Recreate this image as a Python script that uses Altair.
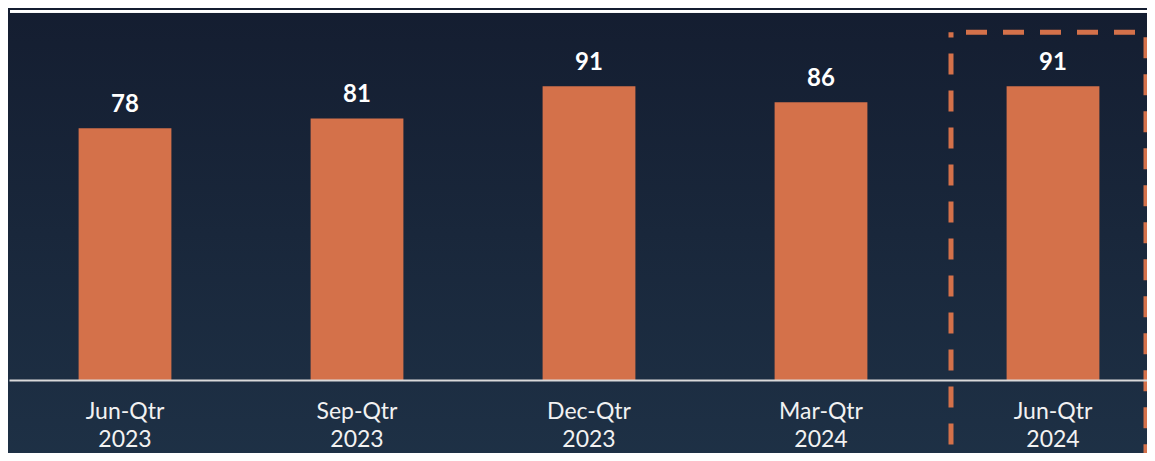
import altair as alt
import pandas as pd

quarters = ["Jun-Qtr 2023", "Sep-Qtr 2023", "Dec-Qtr 2023", "Mar-Qtr 2024", "Jun-Qtr 2024"]
values = [78, 81, 91, 86, 91]
highlight = ["Jun-Qtr 2024"]

df = pd.DataFrame({"quarter": quarters, "value": values})

W, H = 1139, 372
YMAX = 115.2
BAR = "#d4714a"
FONT = "Lato"

xscale = alt.Scale(domain=quarters, range=[1, 1161], paddingInner=0.6, paddingOuter=0.3)
yscale = alt.Scale(domain=[0, YMAX], nice=False, zero=True)

x_enc = alt.X(
    "quarter:N",
    scale=xscale,
    sort=quarters,
    title=None,
    axis=alt.Axis(
        labelExpr="split(datum.label, ' ')",
        labelAngle=0,
        labelFont=FONT,
        labelFontSize=23,
        labelColor="#f2f2f2",
        labelBaseline="top",
        labelLineHeight=28,
        labelPadding=20.5,
        ticks=False,
        tickSize=0,
        domainColor="#d9d9d9",
        domainWidth=2,
        grid=False,
        zindex=2,
    ),
)

bg = alt.Chart(pd.DataFrame({"k": [0]})).mark_rect(
    color=alt.Gradient(
        gradient="linear",
        stops=[
            alt.GradientStop(color="#141d30", offset=0),
            alt.GradientStop(color="#1e3146", offset=1),
        ],
        x1=0, x2=0, y1=0, y2=1,
    ),
    clip=False,
).encode(x=alt.value(0), x2=alt.value("width"), y=alt.value(-10), y2=alt.value(460))

bars = alt.Chart(df).mark_bar(color=BAR).encode(
    x=x_enc,
    y=alt.Y("value:Q", scale=yscale, axis=None),
)

top_line = alt.Chart(df).mark_rect(color="white", clip=False).encode(
    x=alt.value(2),
    x2=alt.value("width"),
    y=alt.datum(YMAX - 0.62, scale=yscale),
    y2=alt.datum(YMAX - 1.39),
)

labels = alt.Chart(df).mark_text(
    font=FONT, fontSize=24, fontWeight="bold", color="white",
    baseline="alphabetic", dy=-16,
).encode(
    x=alt.X("quarter:N", scale=xscale, sort=quarters),
    y=alt.Y("value:Q", scale=yscale),
    text=alt.Text("value:Q"),
)

box = alt.Chart(df).transform_filter(
    alt.FieldOneOfPredicate(field="quarter", oneOf=highlight)
).mark_bar(
    fillOpacity=0,
    stroke=BAR,
    strokeWidth=5,
    strokeDash=[21, 16],
    strokeDashOffset=22,
    width=195,
    xOffset=-4.5,
    clip=False,
).encode(
    x=alt.X("quarter:N", scale=xscale, sort=quarters),
    y=alt.datum(107.7, scale=yscale),
    y2=alt.datum(-24.1),
)

chart = alt.layer(bg, bars, top_line, labels, box).properties(
    width=W,
    height=H,
    autosize="none",
    padding={"left": 0, "top": 0, "right": 0, "bottom": 73},
    background="#151f32",
).configure_view(stroke="transparent")

chart.save("out.html", embed_options={"renderer": "svg", "actions": False})
